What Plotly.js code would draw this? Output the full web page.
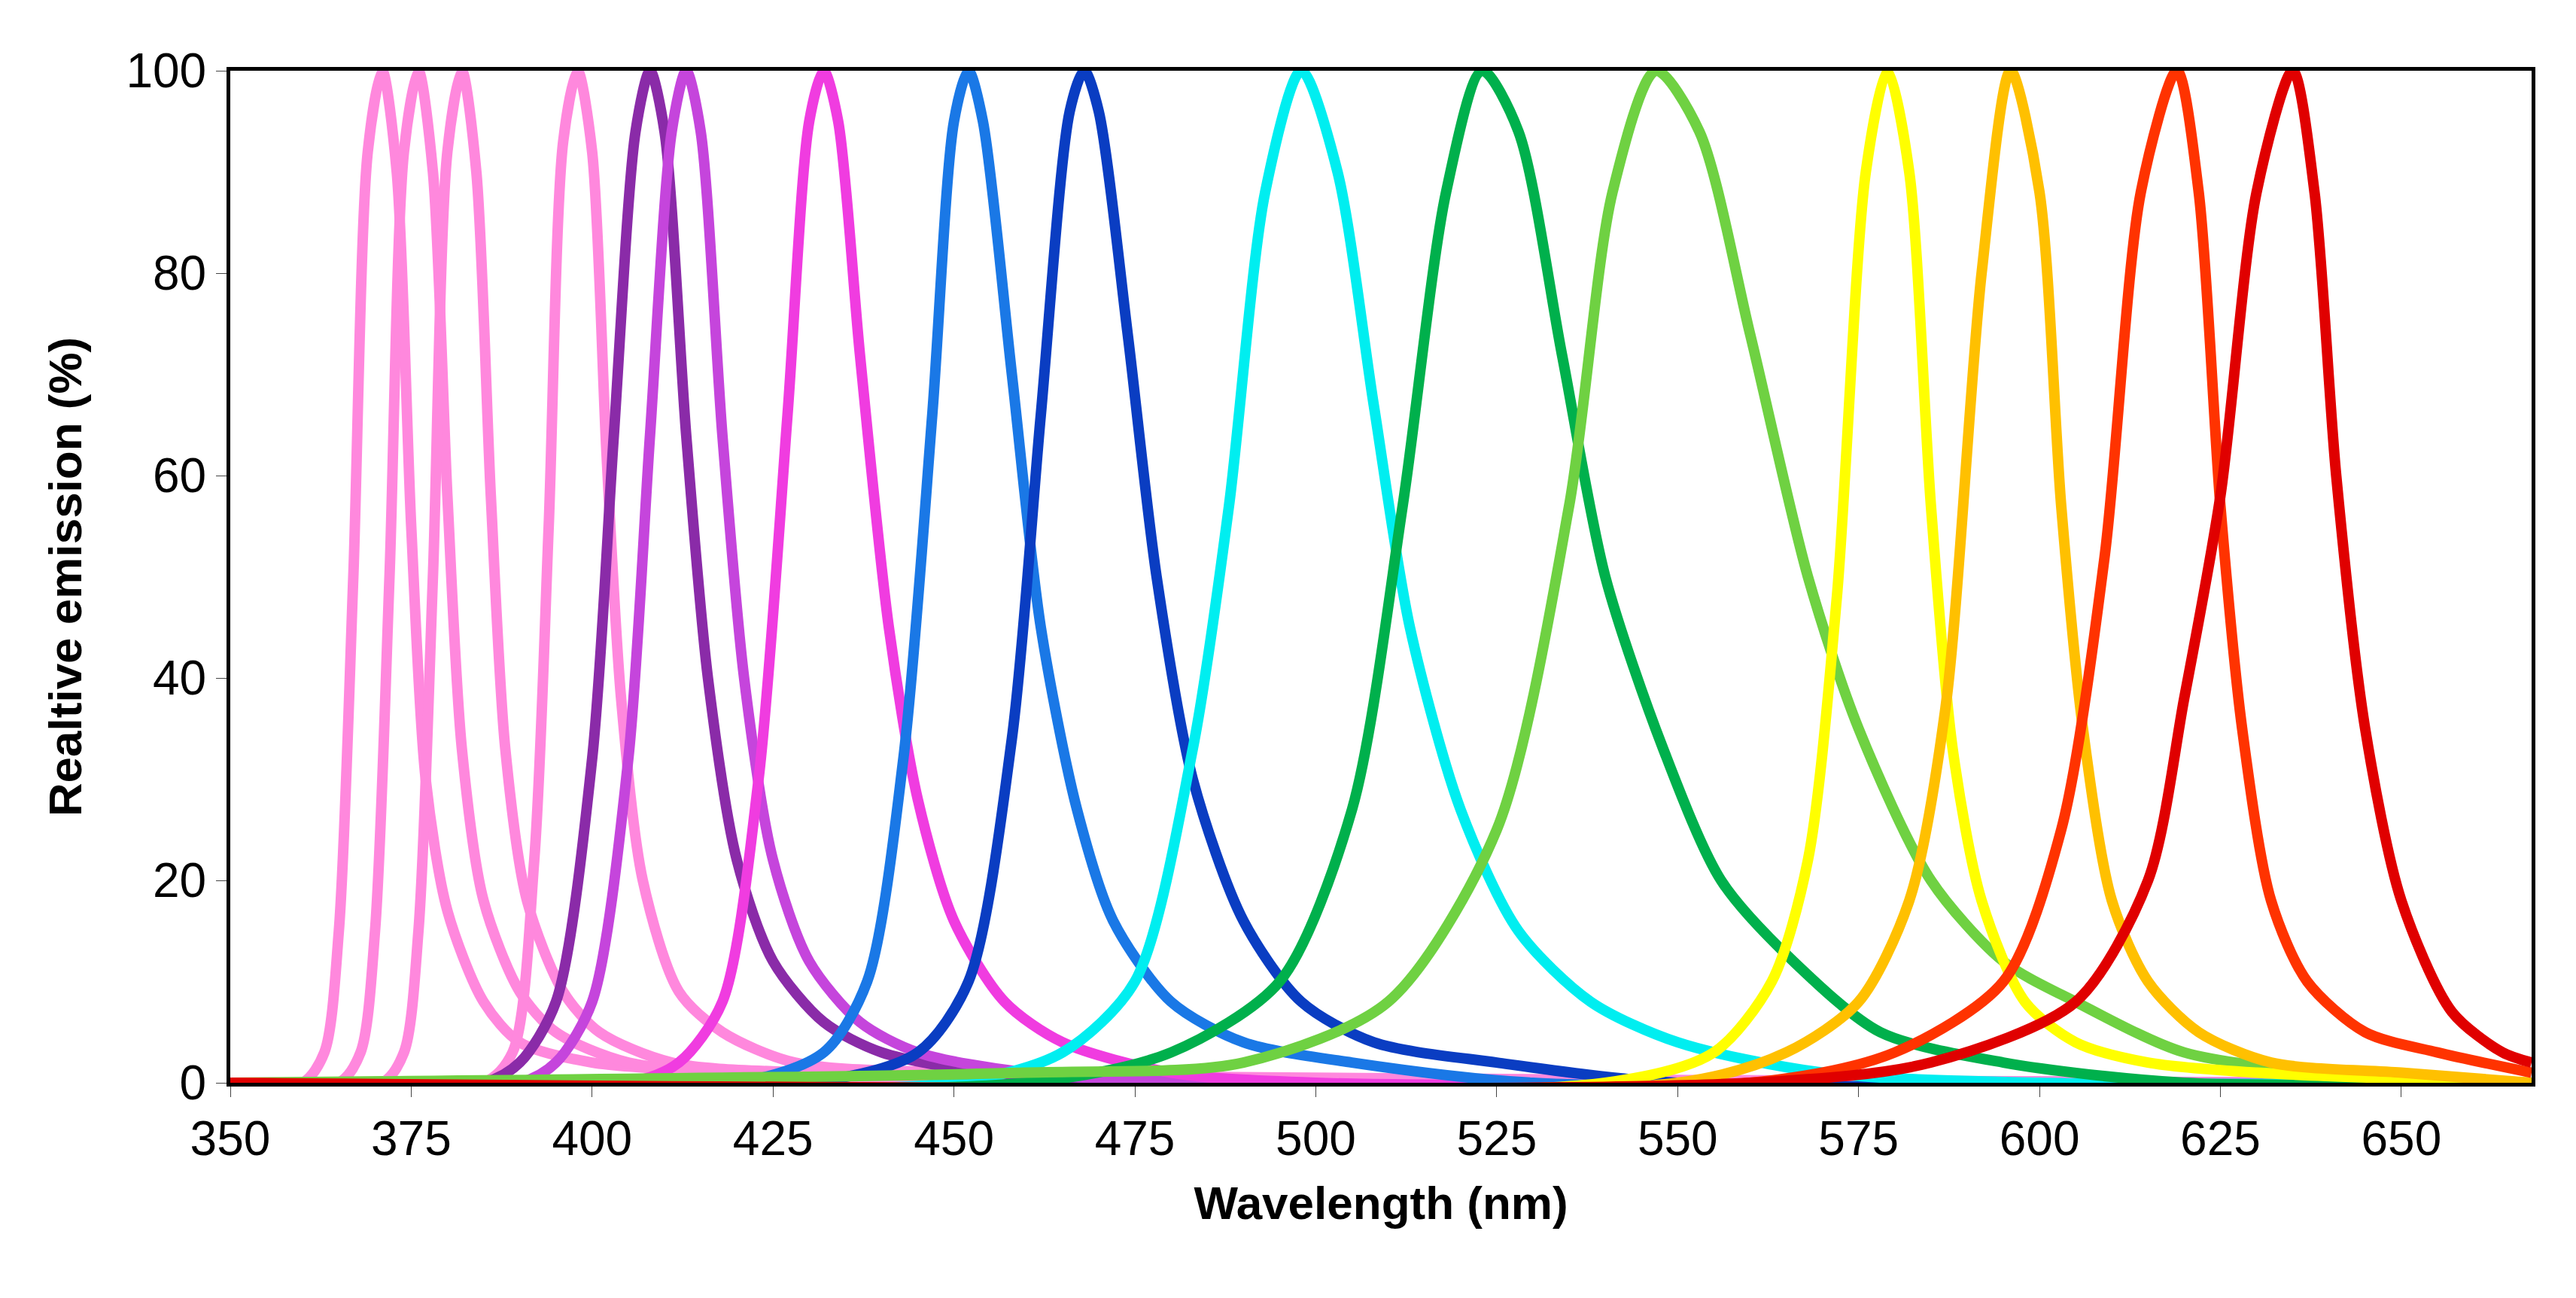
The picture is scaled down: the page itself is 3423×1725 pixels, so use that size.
<!DOCTYPE html>
<html><head><meta charset="utf-8">
<script src="https://cdn.plot.ly/plotly-3.0.1.min.js"></script>
<style>body{margin:0;background:#fff}#c{width:3423px;height:1725px}</style>
</head><body><div id="c"></div>
<script>
const names=["371 nm","376 nm","382 nm","398 nm","408 nm","413 nm","432 nm","452 nm","468 nm","498 nm","523 nm","547 nm","579 nm","596 nm","619 nm","635 nm"];
const colors=["#FF88DD","#FF88DD","#FF88DD","#FF88DD","#8A2BA8","#C545DC","#F03CE0","#1A78E6","#0A3DC2","#00EEF0","#00B04C","#6FD142","#FFFF00","#FFC000","#FF3300","#E00000"];
const xs=[
[350,360,363,365,367,369,371,373,375,377,380,385,390,400,420,450,668],
[350,365,368,370,372,374,376,378,380,382,385,390,395,405,425,668],
[350,371,374,376,378,380,382,384,386,388,391,396,401,411,430,668],
[350,385,389,392,394,396,398,400,402,404,407,412,418,428,450,668],
[350,385,390,395,400,403,406,408,410,413,416,420,425,432,440,455,480,668],
[350,390,395,400,405,408,411,413,415,418,421,425,430,437,445,460,485,668],
[350,405,412,418,423,427,430,432,434,437,441,445,450,457,465,480,500,668],
[350,420,432,438,443,447,450,452,454,458,462,467,472,480,490,505,530,668],
[350,430,445,452,458,462,466,468,470,474,478,483,490,498,508,525,550,668],
[350,450,465,475,483,488,493,498,503,508,513,520,528,538,550,570,600,668],
[350,460,480,495,505,512,518,523,528,534,540,548,556,566,578,595,620,668],
[350,460,490,510,525,535,541,547,553,560,568,575,585,595,605,620,640,668],
[350,540,555,563,568,572,576,579,582,585,588,592,598,605,615,630,668],
[350,550,565,575,582,587,592,596,600,603,606,610,615,622,632,650,668],
[350,560,580,595,603,609,614,619,622,625,628,632,637,645,655,668],
[350,560,585,605,615,620,625,630,635,638,641,645,650,657,664,668]];
const ys=[
[0,0,3,15,50,92,100,90,55,30,17,8,4,2,1,0,0],
[0,0,3,15,50,92,100,90,58,33,18,9,5,2,1,0],
[0,0,3,15,50,92,100,90,58,33,18,9,5,2,1,0],
[0,0,3,22,55,93,100,92,62,38,20,9,5,2,1,0],
[0,0,2,8,32,64,94,100,94,64,40,22,12,6,3,1,0,0],
[0,0,2,8,32,64,94,100,94,64,40,22,12,6,3,1,0,0],
[0,0,2,8,30,66,95,100,95,72,45,28,16,8,4,1,0,0],
[0,0,3,10,32,66,95,100,95,70,45,27,16,8,4,2,0,0],
[0,0,3,10,34,66,96,100,96,74,50,30,16,8,4,2,0,0],
[0,0,3,10,33,57,88,100,90,67,45,27,15,8,4,1,0,0],
[0,0,3,10,27,57,88,100,94,72,50,33,20,12,5,2,0,0],
[0,1,2,8,25,57,88,100,94,74,50,35,20,12,8,3,1,0],
[0,0,3,10,22,48,90,100,90,57,33,18,8,4,2,1,0],
[0,0,3,8,18,37,80,100,88,57,35,18,10,5,2,1,0],
[0,0,3,10,25,52,88,100,88,57,35,18,10,5,3,1],
[0,0,2,8,20,38,58,88,100,88,60,35,18,7,3,2]];
const xTicks=[350,375,400,425,450,475,500,525,550,575,600,625,650];
const yTicks=[0,20,40,60,80,100];
const traces=names.map((n,i)=>({x:xs[i],y:ys[i],name:n,type:'scatter',mode:'lines',
  line:{color:colors[i],width:14,shape:'spline',smoothing:0.8}}));
const F="Liberation Sans, Arial, sans-serif";
Plotly.newPlot('c',traces,{
  width:3423,height:1725,showlegend:false,paper_bgcolor:'#fff',plot_bgcolor:'#fff',
  margin:{l:306,r:59,t:94,b:286},
  xaxis:{range:[350,668],tickvals:xTicks,ticks:'outside',ticklen:14,tickcolor:'#444',
    showgrid:false,zeroline:false,showline:true,mirror:true,linecolor:'#000',linewidth:5,
    tickfont:{family:F,size:64,color:'#000'},
    title:{text:'<b>Wavelength (nm)</b>',font:{family:F,size:62,color:'#000'},standoff:30}},
  yaxis:{range:[0,100],tickvals:yTicks,ticks:'outside',ticklen:14,tickcolor:'#444',
    showgrid:false,zeroline:false,showline:true,mirror:true,linecolor:'#000',linewidth:5,
    tickfont:{family:F,size:64,color:'#000'},
    title:{text:'<b>Realtive emission (%)</b>',font:{family:F,size:62,color:'#000'},standoff:40}}
},{staticPlot:true});
</script></body></html>
